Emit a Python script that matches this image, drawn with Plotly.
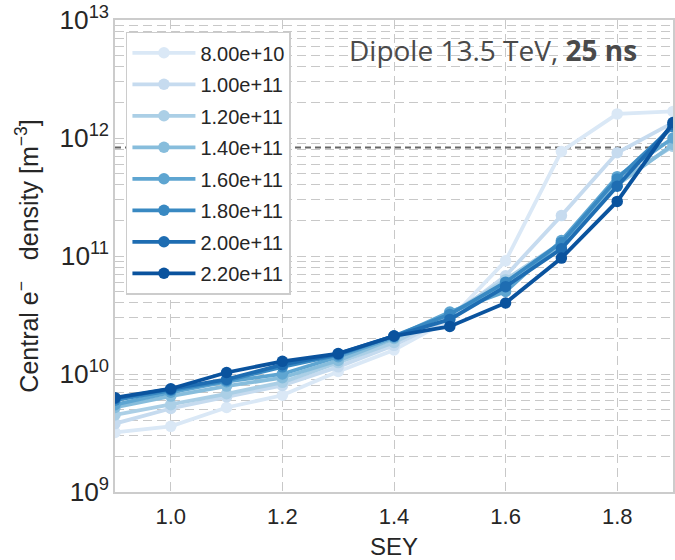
import plotly.graph_objects as go

sey = [0.9, 1.0, 1.1, 1.2, 1.3, 1.4, 1.5, 1.6, 1.7, 1.8, 1.9]
labels = ["8.00e+10", "1.00e+11", "1.20e+11", "1.40e+11",
          "1.60e+11", "1.80e+11", "2.00e+11", "2.20e+11"]
s_080 = [3.2e9, 3.6e9, 5.2e9, 6.6e9, 1.05e10, 1.6e10, 2.9e10, 9.1e10, 7.7e11, 1.6e12, 1.68e12]
s_100 = [3.8e9, 5.1e9, 6.4e9, 8.0e9, 1.15e10, 1.75e10, 3.0e10, 6.8e10, 2.2e11, 7.5e11, 1.35e12]
s_120 = [4.5e9, 5.5e9, 6.8e9, 8.5e9, 1.25e10, 1.85e10, 3.2e10, 6.3e10, 1.3e11, 4.3e11, 8.5e11]
s_140 = [5.2e9, 6.5e9, 7.9e9, 9.3e9, 1.3e10, 2.0e10, 3.3e10, 5.5e10, 1.2e11, 4.0e11, 8.8e11]
s_160 = [5.5e9, 7.0e9, 8.6e9, 1.0e10, 1.4e10, 2.05e10, 3.35e10, 5.0e10, 1.35e11, 4.7e11, 1.0e12]
s_180 = [6.0e9, 7.3e9, 8.8e9, 1.15e10, 1.45e10, 2.1e10, 3.2e10, 6.0e10, 1.3e11, 4.5e11, 1.25e12]
s_200 = [6.2e9, 7.4e9, 9.0e9, 1.2e10, 1.48e10, 2.1e10, 2.9e10, 5.5e10, 1.15e11, 3.9e11, 1.3e12]
s_220 = [6.3e9, 7.5e9, 1.03e10, 1.28e10, 1.49e10, 2.1e10, 2.53e10, 4.0e10, 9.6e10, 2.9e11, 1.35e12]
series = [s_080, s_100, s_120, s_140, s_160, s_180, s_200, s_220]
colors = ["#dae8f6", "#c6dbef", "#abcfe6", "#87bddc",
          "#5ea5d1", "#3989c2", "#1e6db2", "#0a539e"]
threshold = 8.3e11

fig = go.Figure()
fig.add_trace(go.Scatter(x=[sey[0], sey[-1]], y=[threshold, threshold], mode="lines",
                         line=dict(color="#666666", width=2, dash="6px,4px"),
                         showlegend=False, hoverinfo="skip"))
for name, vals, c in zip(labels, series, colors):
    fig.add_trace(go.Scatter(x=sey, y=vals, mode="lines+markers", name=name,
                             legendgroup=name,
                             line=dict(color=c, width=3.8),
                             marker=dict(color=c, size=11.5),
                             cliponaxis=True))

grid = dict(gridcolor="#c8c8c8", gridwidth=1.3, griddash="9px,5px")
fig.update_layout(
    width=675, height=560,
    margin=dict(l=115, r=0, t=20, b=65),
    paper_bgcolor="white", plot_bgcolor="white",
    font=dict(family="Liberation Sans, Arial, sans-serif", size=22, color="#262626"),
    xaxis=dict(range=[0.9, 1.9], tickvals=[1.0, 1.2, 1.4, 1.6, 1.8],
               ticktext=["1.0", "1.2", "1.4", "1.6", "1.8"],
               ticklabelstandoff=4,
               title=dict(text="SEY", standoff=14, font=dict(size=24)),
               showline=True, linecolor="#cccccc", linewidth=1.5, mirror=True,
               ticks="", zeroline=False, **grid),
    yaxis=dict(type="log", range=[9, 13], dtick=1, exponentformat="power",
               tickfont=dict(size=21),
               title=dict(text="Central e<sup>−</sup>   density [m<sup>−3</sup>]",
                          font=dict(size=25), standoff=14),
               showline=True, linecolor="#cccccc", linewidth=1.5, mirror=True,
               ticks="", zeroline=False,
               minor=dict(dtick="D1", showgrid=True, gridcolor="#c8c8c8",
                          gridwidth=1.3, griddash="9px,5px", ticks=""),
               **grid),
    legend=dict(x=0.0196, y=0.975, xanchor="left", yanchor="top",
                bgcolor="white", bordercolor="#cccccc", borderwidth=1.5,
                font=dict(size=20), tracegroupgap=2.5, itemwidth=63),
    annotations=[dict(text="Dipole 13.5 TeV, <b>25 ns</b>", xref="paper", yref="paper",
                      x=0.677, y=0.937, xanchor="center", yanchor="middle",
                      showarrow=False,
                      font=dict(family="Open Sans", size=28, color="#4a4a4a"))],
)

fig.write_html("out.html")
